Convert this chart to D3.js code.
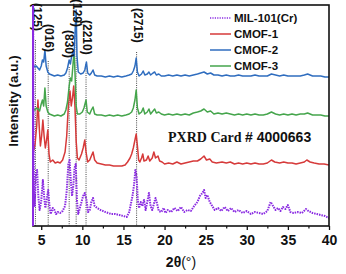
<!DOCTYPE html>
<html>
<head>
<meta charset="utf-8">
<script src="https://cdn.jsdelivr.net/npm/d3@7"></script>
<style>
  body { margin: 0; background: #fff; }
  svg { display: block; }
</style>
</head>
<body>
<svg></svg>
<script>
// [2theta, intensity] pairs
const mil101 = [
  [4.0, 240], [4.1, 60], [4.2, 20], [4.35, 50], [4.5, 56], [4.65, 30], [4.8, 16], [5.0, 25],
  [5.2, 46], [5.35, 30], [5.5, 18], [5.7, 28], [5.85, 36], [6.0, 20], [6.15, 12], [6.4, 18],
  [6.6, 16], [6.8, 12], [7.0, 14], [7.3, 13], [7.6, 15], [7.9, 20], [8.1, 35], [8.3, 62],
  [8.45, 66], [8.6, 45], [8.75, 30], [8.9, 40], [9.05, 58], [9.2, 62], [9.35, 25], [9.5, 12],
  [9.7, 18], [9.9, 24], [10.1, 30], [10.3, 33], [10.5, 26], [10.7, 14], [10.9, 16], [11.1, 24],
  [11.3, 28], [11.5, 20], [11.8, 18], [12.2, 16], [12.8, 14], [13.5, 12], [14.0, 12], [14.5, 11],
  [15.0, 10], [15.4, 9], [15.7, 14], [15.9, 22], [16.1, 30], [16.3, 42], [16.45, 56], [16.6, 50],
  [16.75, 25], [16.9, 18], [17.1, 24], [17.3, 20], [17.5, 26], [17.7, 16], [17.9, 24], [18.1, 33],
  [18.3, 20], [18.5, 16], [18.7, 22], [18.9, 28], [19.1, 22], [19.3, 15], [19.6, 14], [19.9, 18],
  [20.1, 13], [20.4, 16], [20.8, 14], [21.2, 18], [21.6, 15], [22.0, 19], [22.4, 14], [22.8, 16],
  [23.2, 15], [23.6, 20], [24.0, 24], [24.3, 30], [24.6, 33], [24.8, 36], [25.0, 28], [25.2, 31],
  [25.5, 24], [25.8, 20], [26.1, 16], [26.5, 18], [26.9, 15], [27.3, 19], [27.7, 15], [28.1, 18],
  [28.5, 14], [29.0, 16], [29.5, 13], [30.0, 15], [30.5, 12], [31.0, 14], [31.5, 13], [32.0, 12],
  [32.5, 15], [32.9, 24], [33.2, 20], [33.5, 16], [33.8, 18], [34.1, 15], [34.4, 19], [34.7, 17],
  [35.0, 21], [35.3, 14], [35.7, 13], [36.2, 14], [36.7, 13], [37.2, 17], [37.5, 15], [38.0, 13],
  [38.5, 12], [39.0, 11], [39.5, 10], [40.0, 8]
];

const cmof1 = [
  [4.0, 30], [4.1, 26], [4.25, 32], [4.45, 50], [4.6, 76], [4.75, 50], [4.9, 30], [5.05, 40],
  [5.2, 56], [5.35, 40], [5.5, 28], [5.65, 36], [5.8, 46], [5.95, 22], [6.1, 14], [6.4, 16],
  [6.7, 13], [7.0, 14], [7.3, 13], [7.6, 16], [7.9, 24], [8.1, 40], [8.3, 70], [8.5, 85],
  [8.65, 70], [8.8, 78], [8.95, 90], [9.1, 70], [9.25, 35], [9.4, 18], [9.6, 16], [9.9, 22],
  [10.1, 28], [10.3, 36], [10.45, 24], [10.65, 14], [10.9, 16], [11.1, 20], [11.3, 24], [11.5, 16],
  [11.8, 13], [12.3, 12], [12.8, 11], [13.3, 11], [13.8, 10], [14.3, 10], [14.8, 10], [15.2, 11],
  [15.5, 14], [15.8, 18], [16.0, 22], [16.2, 28], [16.4, 36], [16.55, 42], [16.7, 30], [16.85, 16],
  [17.0, 14], [17.2, 18], [17.35, 22], [17.5, 15], [17.8, 16], [18.0, 20], [18.2, 15], [18.5, 18],
  [18.7, 24], [18.9, 18], [19.2, 20], [19.4, 15], [19.7, 14], [20.0, 12], [20.5, 13], [21.0, 12],
  [21.5, 14], [22.0, 12], [22.5, 13], [23.0, 14], [23.5, 15], [24.0, 15], [24.4, 17], [24.8, 20],
  [25.1, 16], [25.5, 17], [25.8, 14], [26.3, 13], [27.0, 14], [27.5, 13], [28.0, 14], [28.5, 12],
  [29.0, 13], [29.5, 12], [30.0, 13], [30.5, 12], [31.0, 13], [31.5, 12], [32.0, 12], [32.5, 13],
  [33.0, 16], [33.4, 14], [34.0, 13], [34.5, 14], [35.0, 13], [35.5, 13], [36.0, 12], [36.5, 13],
  [37.0, 14], [37.3, 16], [37.7, 14], [38.2, 13], [38.8, 12], [39.4, 12], [40.0, 11]
];

const cmof2 = [
  [4.0, 22], [4.2, 19], [4.4, 20], [4.6, 18], [4.8, 16], [5.0, 20], [5.15, 26], [5.3, 24],
  [5.45, 36], [5.6, 20], [5.8, 14], [6.0, 12], [6.3, 11], [6.6, 10], [7.0, 11], [7.4, 10],
  [7.8, 11], [8.0, 13], [8.2, 18], [8.4, 26], [8.55, 22], [8.7, 30], [8.85, 34], [9.0, 30],
  [9.15, 60], [9.25, 76], [9.35, 30], [9.5, 14], [9.8, 12], [10.1, 13], [10.3, 16], [10.5, 24],
  [10.65, 13], [10.9, 11], [11.1, 13], [11.3, 16], [11.5, 11], [11.8, 10], [12.3, 10], [12.8, 9],
  [13.3, 10], [13.8, 9], [14.3, 10], [14.8, 9], [15.3, 10], [15.7, 11], [16.0, 12], [16.2, 15],
  [16.4, 20], [16.55, 28], [16.7, 14], [16.9, 10], [17.2, 12], [17.4, 15], [17.6, 11], [17.9, 12],
  [18.1, 14], [18.3, 11], [18.6, 13], [18.8, 14], [19.0, 11], [19.3, 12], [19.6, 10], [20.0, 10],
  [20.5, 11], [21.0, 10], [21.5, 11], [22.0, 10], [22.5, 11], [23.0, 10], [23.5, 11], [24.0, 12],
  [24.4, 13], [24.8, 14], [25.2, 12], [25.6, 13], [26.0, 11], [26.5, 11], [27.0, 10], [27.5, 11],
  [28.0, 10], [28.5, 10], [29.0, 11], [29.5, 10], [30.0, 10], [30.5, 10], [31.0, 11], [31.5, 10],
  [32.0, 10], [32.5, 10], [33.0, 12], [33.5, 11], [34.0, 10], [34.5, 11], [35.0, 10], [35.5, 10],
  [36.0, 10], [36.5, 10], [37.0, 11], [37.4, 12], [38.0, 10], [38.5, 10], [39.0, 10], [39.5, 9],
  [40.0, 9]
];

const cmof3 = [
  [4.0, 18], [4.2, 16], [4.4, 18], [4.6, 17], [4.8, 15], [5.0, 22], [5.15, 26], [5.3, 20],
  [5.45, 38], [5.6, 20], [5.8, 14], [6.0, 12], [6.3, 11], [6.6, 10], [7.0, 11], [7.4, 10],
  [7.8, 12], [8.0, 16], [8.2, 24], [8.4, 40], [8.55, 48], [8.7, 45], [8.85, 60], [9.0, 76],
  [9.1, 55], [9.25, 20], [9.4, 12], [9.7, 12], [10.0, 14], [10.2, 18], [10.45, 26], [10.6, 14],
  [10.9, 12], [11.1, 16], [11.3, 19], [11.5, 12], [11.8, 11], [12.3, 11], [12.8, 10], [13.3, 11],
  [13.8, 10], [14.3, 11], [14.8, 10], [15.3, 11], [15.7, 12], [16.0, 14], [16.2, 18], [16.4, 26],
  [16.55, 36], [16.7, 18], [16.9, 12], [17.2, 14], [17.4, 18], [17.6, 12], [17.9, 14], [18.1, 17],
  [18.3, 12], [18.6, 15], [18.8, 17], [19.0, 13], [19.3, 14], [19.6, 12], [20.0, 11], [20.5, 12],
  [21.0, 11], [21.5, 12], [22.0, 11], [22.5, 12], [23.0, 11], [23.5, 13], [24.0, 14], [24.4, 15],
  [24.8, 17], [25.2, 14], [25.6, 15], [26.0, 12], [26.5, 13], [27.0, 12], [27.5, 13], [28.0, 12],
  [28.5, 11], [29.0, 12], [29.5, 11], [30.0, 12], [30.5, 11], [31.0, 12], [31.5, 11], [32.0, 11],
  [32.5, 12], [33.0, 14], [33.5, 12], [34.0, 11], [34.5, 12], [35.0, 11], [35.5, 12], [36.0, 11],
  [36.5, 12], [37.0, 12], [37.4, 13], [38.0, 11], [38.5, 11], [39.0, 11], [39.5, 10], [40.0, 10]
];

const seriesNames = ["MIL-101(Cr)", "CMOF-1", "CMOF-2", "CMOF-3"];
const seriesData = [mil101, cmof1, cmof2, cmof3];
const seriesOffsets = [0, 50, 140, 100];

const hklLabels = ["(125)", "(016)", "(830)", "(129)", "(2210)", "(2715)"];
const hklAngles = [4.3, 5.85, 8.4, 9.25, 10.45, 16.6];

const xTicks = [5, 10, 15, 20, 25, 30, 35, 40];
const xMinorTicks = [7.5, 12.5, 17.5, 22.5, 27.5, 32.5, 37.5];

const sizes = {
  width: 346,
  height: 274,
  left: 33,
  right: 329,
  top: 5,
  bottom: 226
};

const colors = {
  "MIL-101(Cr)": "#8a2be2",
  "CMOF-1": "#d63a3a",
  "CMOF-2": "#2f6dbf",
  "CMOF-3": "#45a54c"
};

// top offset and x nudge of each rotated hkl label
const labelTops = [3, 24, 30, -1, 20, 8];
const labelNudge = [2, 1, 0, 1, 1, 1];

const svg = d3.select("svg")
  .attr("width", sizes.width)
  .attr("height", sizes.height);

const x = d3.scaleLinear().domain([4, 40]).range([sizes.left, sizes.right]);
const y = d3.scaleLinear().domain([0, 221]).range([sizes.bottom, sizes.top]);

svg.append("clipPath")
  .attr("id", "plot-clip")
  .append("rect")
  .attr("x", sizes.left)
  .attr("y", sizes.top)
  .attr("width", sizes.right - sizes.left)
  .attr("height", sizes.bottom - sizes.top);

const plot = svg.append("g").attr("clip-path", "url(#plot-clip)");

// dotted reference lines
hklAngles.forEach((a, i) => {
  plot.append("line")
    .attr("x1", x(a))
    .attr("x2", x(a))
    .attr("y1", labelTops[i] + (hklLabels[i].length * 7) + 2)
    .attr("y2", sizes.bottom)
    .attr("stroke", "#333")
    .attr("stroke-width", 0.9)
    .attr("stroke-dasharray", "1,1.2");
});

const drawOrder = [1, 3, 2, 0];

drawOrder.forEach(i => {
  const off = seriesOffsets[i];
  const line = d3.line()
    .x(d => x(d[0]))
    .y(d => y(d[1] + off));

  plot.append("path")
    .attr("d", line(seriesData[i]))
    .attr("fill", "none")
    .attr("stroke", colors[seriesNames[i]])
    .attr("stroke-width", i === 0 ? 2 : 1.5)
    .attr("stroke-dasharray", i === 0 ? "1.5,1" : null)
    .attr("stroke-linejoin", "round");
});

// hkl labels
hklAngles.forEach((a, i) => {
  svg.append("text")
    .attr("transform", `translate(${x(a) + labelNudge[i]},${labelTops[i]}) rotate(90)`)
    .attr("dominant-baseline", "central")
    .style("font-family", "'Liberation Sans', Arial, sans-serif")
    .style("font-weight", "bold")
    .style("font-size", "12px")
    .style("fill", "#111")
    .text(hklLabels[i]);
});

// frame
svg.append("rect")
  .attr("x", sizes.left)
  .attr("y", sizes.top)
  .attr("width", sizes.right - sizes.left)
  .attr("height", sizes.bottom - sizes.top)
  .attr("fill", "none")
  .attr("stroke", "#111")
  .attr("stroke-width", 1.6);

svg.append("line")
  .attr("x1", sizes.left)
  .attr("x2", sizes.left)
  .attr("y1", sizes.top)
  .attr("y2", sizes.bottom)
  .attr("stroke", colors["MIL-101(Cr)"])
  .attr("stroke-width", 2);

// x axis
const xAxis = svg.append("g")
  .attr("transform", `translate(0,${sizes.bottom})`)
  .call(d3.axisBottom(x).tickValues(xTicks).tickSize(4).tickPadding(5).tickSizeOuter(0));

xAxis.select(".domain").remove();
xAxis.selectAll("line").attr("stroke", "#111").attr("stroke-width", 1.3);
xAxis.selectAll("text")
  .style("font-family", "'Liberation Sans', Arial, sans-serif")
  .style("font-weight", "bold")
  .style("font-size", "14px")
  .style("fill", "#111");

const xMinor = svg.append("g")
  .attr("transform", `translate(0,${sizes.bottom})`)
  .call(d3.axisBottom(x).tickValues(xMinorTicks).tickSize(2.5).tickFormat(""));
xMinor.select(".domain").remove();
xMinor.selectAll("line").attr("stroke", "#111").attr("stroke-width", 1.2);

// axis titles
const xTitle = svg.append("text")
  .attr("x", 181)
  .attr("y", 267)
  .attr("text-anchor", "middle")
  .style("font-family", "'Liberation Sans', Arial, sans-serif")
  .style("font-size", "14px")
  .style("fill", "#111");
xTitle.append("tspan").style("font-weight", "bold").text("2θ");
xTitle.append("tspan").text("(°)");

svg.append("text")
  .attr("transform", "translate(13,101) rotate(-90)")
  .attr("text-anchor", "middle")
  .attr("dominant-baseline", "central")
  .style("font-family", "'Liberation Sans', Arial, sans-serif")
  .style("font-weight", "bold")
  .style("font-size", "13.5px")
  .style("fill", "#111")
  .text("Intensity (a.u.)");

// legend
const legend = svg.append("g");
seriesNames.forEach((name, i) => {
  const ly = 18 + i * 16;
  legend.append("line")
    .attr("x1", 210)
    .attr("x2", 231)
    .attr("y1", ly)
    .attr("y2", ly)
    .attr("stroke", colors[name])
    .attr("stroke-width", 1.5)
    .attr("stroke-dasharray", i === 0 ? "1.2,1.2" : null);
  legend.append("text")
    .attr("x", 234)
    .attr("y", ly)
    .attr("dominant-baseline", "central")
    .style("font-family", "'Liberation Sans', Arial, sans-serif")
    .style("font-weight", "bold")
    .style("font-size", "11.5px")
    .style("fill", "#111")
    .text(name);
});

// card annotation
const card = svg.append("text")
  .attr("x", 168)
  .attr("y", 142)
  .style("font-size", "14px")
  .style("font-weight", "bold")
  .style("fill", "#111");
card.append("tspan")
  .style("font-family", "'Liberation Serif', 'Times New Roman', serif")
  .text("PXRD Card ");
card.append("tspan")
  .style("font-family", "'Liberation Sans', Arial, sans-serif")
  .text("# 4000663");
</script>
</body>
</html>
